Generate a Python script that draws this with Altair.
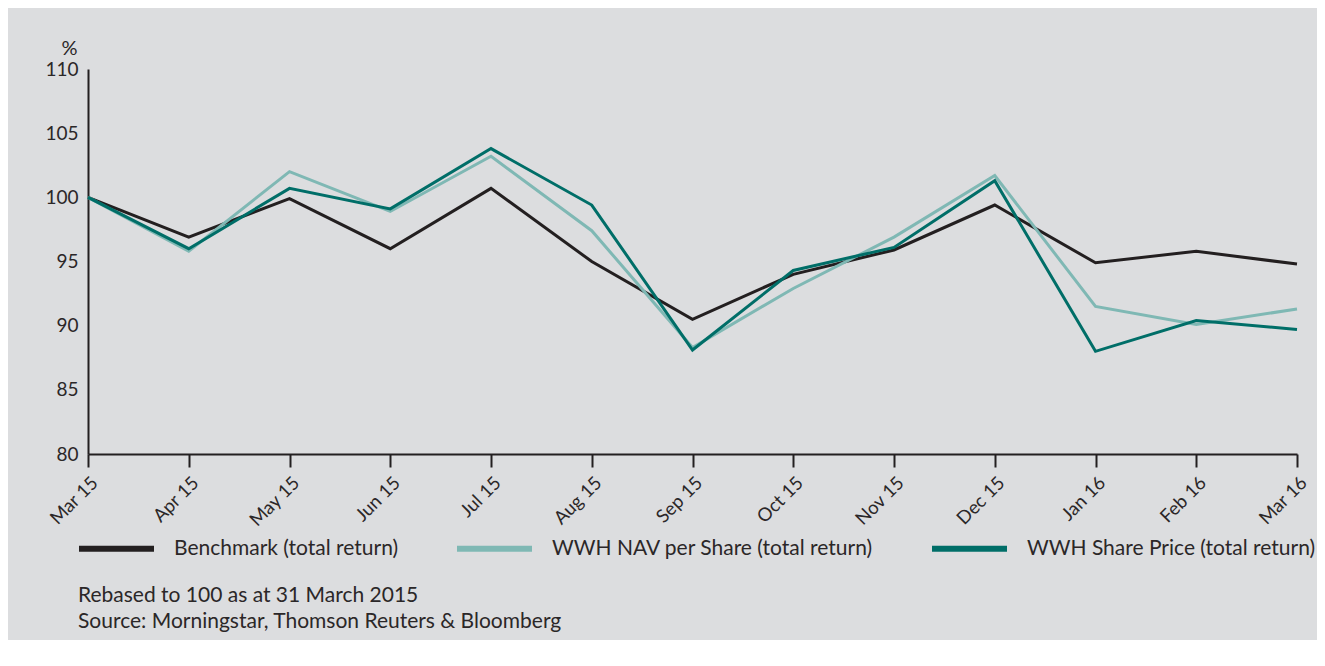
import altair as alt
import pandas as pd

months = ["Mar 15", "Apr 15", "May 15", "Jun 15", "Jul 15", "Aug 15", "Sep 15",
          "Oct 15", "Nov 15", "Dec 15", "Jan 16", "Feb 16", "Mar 16"]
benchmark = [100.0, 96.9, 99.9, 96.0, 100.7, 95.0, 90.5, 94.0, 95.9, 99.4, 94.9, 95.8, 94.8]
nav = [100.0, 95.8, 102.0, 98.9, 103.2, 97.4, 88.3, 92.9, 96.9, 101.7, 91.5, 90.1, 91.3]
share = [100.0, 96.0, 100.7, 99.1, 103.8, 99.4, 88.1, 94.3, 96.1, 101.3, 88.0, 90.4, 89.7]

series_names = ["Benchmark (total return)", "WWH NAV per Share (total return)",
                "WWH Share Price (total return)"]
series_colors = ["#231f20", "#7fb8b4", "#006e68"]
y_ticks = [80, 85, 90, 95, 100, 105, 110]
notes = ["Rebased to 100 as at 31 March 2015",
         "Source: Morningstar, Thomson Reuters & Bloomberg"]

rows = []
for name, vals in zip(series_names, [benchmark, nav, share]):
    for m, v in zip(months, vals):
        rows.append({"month": m, "value": v, "series": name})
df = pd.DataFrame(rows)

FONT = "Lato"
TXT = "#2b2728"
BG = "#dcdddf"
BIG = 21

lines = alt.Chart(df).mark_line(strokeWidth=3).encode(
    x=alt.X("month:N", sort=months, scale=alt.Scale(type="point", padding=0),
            axis=alt.Axis(title=None, labelAngle=-45, labelAlign="right",
                          labelBaseline="top", labelPadding=6, tickSize=13,
                          tickColor="#231f20", domainColor="#231f20",
                          tickWidth=2, domainWidth=2,
                          labelFontSize=18.5, labelColor=TXT, labelFont=FONT,
                          grid=False)),
    y=alt.Y("value:Q", scale=alt.Scale(domain=[80, 110], nice=False, zero=False),
            axis=alt.Axis(title="%", titleAngle=0, titleAlign="center",
                          titleBaseline="alphabetic", titleX=-19, titleY=-15,
                          titleFontSize=20, titleFontWeight="normal",
                          titleColor=TXT, titleFont=FONT,
                          values=y_ticks, ticks=False, labelPadding=10,
                          domainColor="#231f20", domainWidth=2,
                          labelFontSize=19, labelColor=TXT, labelFont=FONT,
                          grid=False)),
    color=alt.Color("series:N", sort=series_names,
                    scale=alt.Scale(domain=series_names, range=series_colors),
                    legend=alt.Legend(title=None, orient="none", direction="horizontal",
                                      legendX=-12, legendY=439,
                                      symbolType="stroke", symbolSize=5625,
                                      symbolStrokeWidth=6, labelOffset=17,
                                      columnPadding=46, labelFontSize=BIG,
                                      labelFont=FONT, labelColor=TXT,
                                      labelLimit=500)),
)

notes_df = pd.DataFrame({"text": notes, "row": [0, 1]})
note_text = alt.Chart(notes_df).mark_text(
    align="left", baseline="middle", fontSize=BIG, font=FONT, color=TXT
).encode(
    x=alt.value(-10),
    y=alt.Y("row:Q", scale=alt.Scale(domain=[0, 1], range=[527, 553]), axis=None),
    text="text:N",
)

chart = alt.layer(lines, note_text).resolve_scale(y="independent").properties(
    width=1209, height=385,
    background=BG,
    padding={"left": 80, "top": 61, "right": 20, "bottom": 186},
    autosize=alt.AutoSizeParams(type="none"),
).configure_view(stroke=None)

chart.save("out.html", embed_options={"renderer": "svg", "actions": False})
